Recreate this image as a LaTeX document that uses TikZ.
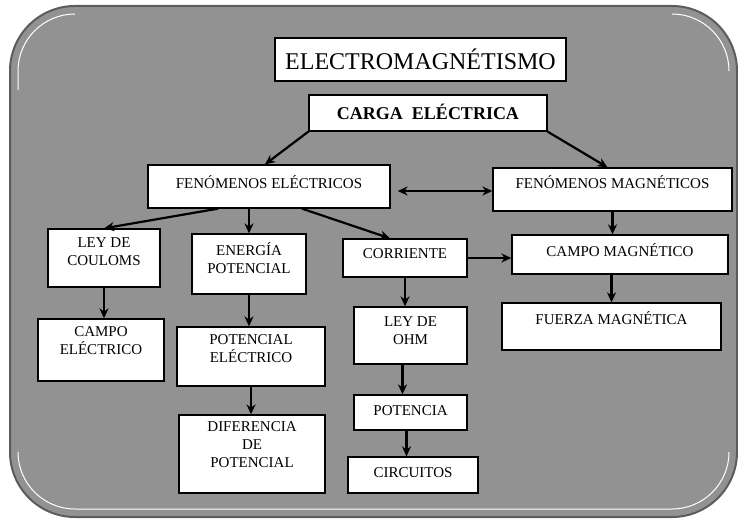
\documentclass[tikz,border=0pt]{standalone}
\usepackage{fontspec}
\setmainfont{Liberation Serif}
\usetikzlibrary{positioning, calc, arrows.meta}

\begin{document}
\begin{tikzpicture}[x=1pt,y=-1pt]
\definecolor{panelgray}{RGB}{146,146,146}
\definecolor{edgegray}{RGB}{92,92,92}
\tikzstyle{caja}=[draw=black, line width=1.3pt, fill=white, align=center, inner sep=0pt, font=\fontsize{15}{18}\selectfont]
\tikzstyle{flecha}=[line width=2.2pt, -{Stealth[length=10pt,width=9pt]}]
\tikzstyle{brillo}=[white, line width=1pt]
\useasboundingbox (0,0) rectangle (738,521);
\draw[edgegray, line width=2pt, fill=panelgray, rounded corners=65pt] (10,6) rectangle (737,517);
\draw[brillo] (18,90) -- (18,71) arc[start angle=180, end angle=270, radius=57];
\draw[brillo] (672,14) arc[start angle=270, end angle=360, radius=57];
\draw[brillo] (18,452) arc[start angle=180, end angle=90, radius=57] -- (672,509) arc[start angle=90, end angle=0, radius=57];
\node[caja, font=\fontsize{24}{28}\selectfont, minimum width=291, minimum height=43] (titulo) at (420.5,59.5) {ELECTROMAGNÉTISMO};
\node[caja, font=\bfseries\fontsize{18}{21}\selectfont, minimum width=238, minimum height=36, text depth=2pt] (carga) at (428,113) {CARGA\ \ ELÉCTRICA};
\node[caja, minimum width=242, minimum height=43, text depth=8pt] (fenelec) at (269,186.5) {FENÓMENOS ELÉCTRICOS};
\node[caja, minimum width=239, minimum height=43, text depth=14pt] (fenmag) at (612.5,189.5) {FENÓMENOS MAGNÉTICOS};
\node[caja, minimum width=112, minimum height=58, text depth=12pt] (coulomb) at (104,258) {LEY DE\\COULOMS};
\node[caja, minimum width=114, minimum height=60, text depth=12pt] (energia) at (249,264) {ENERGÍA\\POTENCIAL};
\node[caja, minimum width=124, minimum height=38, text depth=8pt] (corriente) at (405,258) {CORRIENTE};
\node[caja, minimum width=216, minimum height=39, text depth=8pt] (campomag) at (620,254.5) {CAMPO MAGNÉTICO};
\node[caja, minimum width=126, minimum height=62, text depth=18pt] (campoelec) at (101,350) {CAMPO\\ELÉCTRICO};
\node[caja, minimum width=148, minimum height=59, text depth=16pt] (potelec) at (251,356.5) {POTENCIAL\\ELÉCTRICO};
\node[caja, minimum width=113, minimum height=57, text depth=10pt] (ohm) at (410.5,335.5) {LEY DE\\OHM};
\node[caja, minimum width=219, minimum height=47, text depth=16pt] (fuerza) at (611.5,326.5) {FUERZA MAGNÉTICA};
\node[caja, minimum width=146, minimum height=78, text depth=18pt] (difpot) at (252,454) {DIFERENCIA\\DE\\POTENCIAL};
\node[caja, minimum width=113, minimum height=35, text depth=4pt] (potencia) at (410.5,412.5) {POTENCIA};
\node[caja, minimum width=130, minimum height=36, text depth=4pt] (circuitos) at (413,475) {CIRCUITOS};
\draw[flecha] (carga.south west) -- ([xshift=-4pt]fenelec.north);
\draw[flecha] (carga.south east) -- ([xshift=-5pt]fenmag.north);
\draw[flecha, {Stealth[length=10pt,width=9pt]}-{Stealth[length=10pt,width=9pt]}] ($(fenelec.east |- fenmag.west)+(7,1.5)$) -- ($(fenmag.west)+(0,1.5)$);
\draw[flecha] ([xshift=-51pt]fenelec.south) -- (coulomb.north);
\draw[flecha] (fenelec.south -| energia.north) -- (energia.north);
\draw[flecha] ([xshift=33pt]fenelec.south) -- ([xshift=-15pt]corriente.north);
\draw[flecha] (coulomb.south) -- (coulomb.south |- campoelec.north);
\draw[flecha] (energia.south) -- (energia.south |- potelec.north);
\draw[flecha] (potelec.south) -- (potelec.south |- difpot.north);
\draw[flecha] (corriente.south) -- (corriente.south |- ohm.north);
\draw[flecha] ([xshift=-8pt]ohm.south) -- ([xshift=-8pt]potencia.north);
\draw[flecha] ([xshift=-4pt]potencia.south) -- ([xshift=-4pt]potencia.south |- circuitos.north);
\draw[flecha] (corriente.east) -- (corriente.east -| campomag.west);
\draw[flecha] (fenmag.south) -- (fenmag.south |- campomag.north);
\draw[flecha] (fuerza.north |- campomag.south) -- (fuerza.north);
\end{tikzpicture}
\end{document}
